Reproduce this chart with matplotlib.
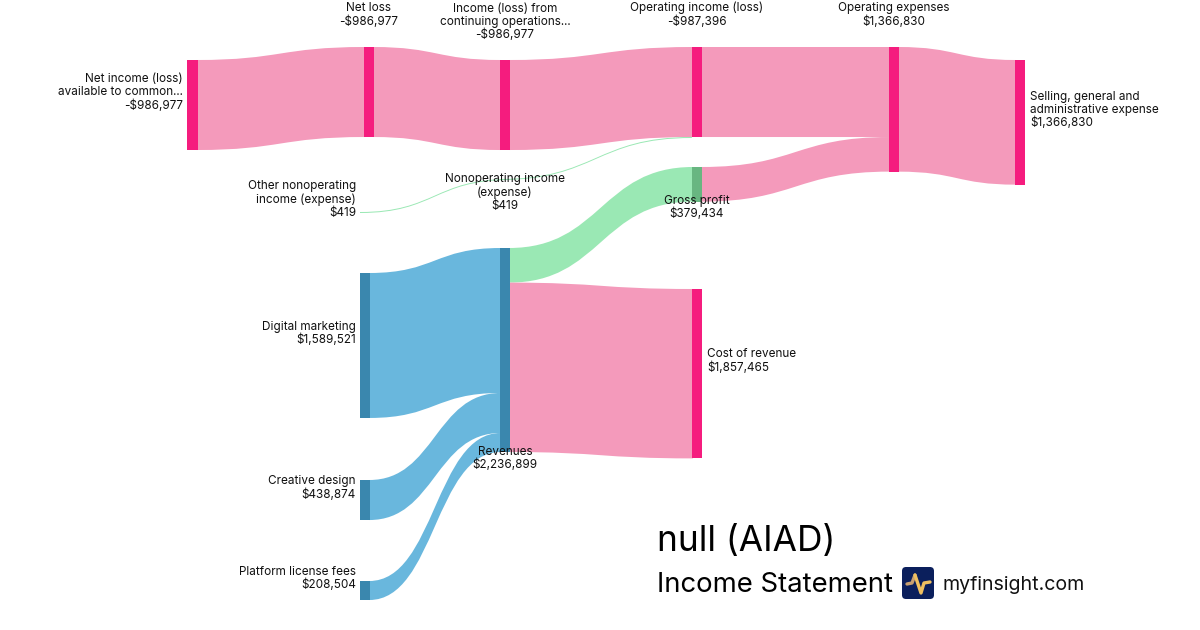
import matplotlib
matplotlib.use("Agg")
import matplotlib.pyplot as plt
from matplotlib.path import Path
from matplotlib.patches import PathPatch, Rectangle, FancyBboxPatch

plt.rcParams['font.family'] = ['Inter', 'DejaVu Sans']

# the chart's values
node_names = ["Net income (loss)\navailable to common...", "Net loss", "Income (loss) from\ncontinuing operations...",
              "Operating income (loss)", "Operating expenses", "Selling, general and\nadministrative expense",
              "Other nonoperating\nincome (expense)", "Nonoperating income\n(expense)", "Gross profit",
              "Digital marketing", "Creative design", "Platform license fees", "Revenues", "Cost of revenue"]
node_values = [-986977, -986977, -986977, -987396, 1366830, 1366830,
               419, 419, 379434, 1589521, 438874, 208504, 2236899, 1857465]
link_source = [0, 1, 2, 3, 8, 4, 6, 7, 12, 12, 9, 10, 11]
link_target = [1, 2, 3, 4, 4, 5, 7, 3, 8, 13, 12, 12, 12]
link_values = [986977, 986977, 986977, 986977, 379434, 1366830, 419, 419, 379434, 1857465, 1589521, 438874, 208504]

# layout, in pixels of the 1200x630 picture
node_x = [187.3, 363.7, 499.7, 691.9, 888.9, 1014.8, 360, 499.7, 691.9, 360, 360, 360, 499.7, 691.9]
node_top = [60, 47, 60, 47, 47, 60, 212, 179, 167, 273, 480, 581, 248, 289]
node_w = 10.3
px_per_unit = 204 / 2236899
# anchor x, block centre y, alignment
label_pos = [(183, 92.5, 'right'), (369, 15, 'center'), (505, 22, 'center'), (697, 15, 'center'),
             (894, 15, 'center'), (1030, 110, 'left'), (356, 199.5, 'right'), (505, 192.5, 'center'),
             (697, 207.5, 'center'), (356, 333.5, 'right'), (356, 488, 'right'), (356, 578.5, 'right'),
             (505, 458.5, 'center'), (707, 361, 'left')]

PINK, PINK_LINK = '#F51C7E', '#F49ABB'
BLUE, BLUE_LINK = '#3A87AE', '#69B7DD'
GREEN, GREEN_LINK = '#68B681', '#9AE8B4'
node_colors = [PINK] * 6 + [GREEN, GREEN, GREEN, BLUE, BLUE, BLUE, BLUE, PINK]
link_colors = [PINK_LINK] * 6 + [GREEN_LINK, GREEN_LINK, GREEN_LINK, PINK_LINK, BLUE_LINK, BLUE_LINK, BLUE_LINK]


def money(v):
    return f"-${abs(v):,}" if v < 0 else f"${v:,}"


fig = plt.figure(figsize=(12, 6.3), dpi=100)
ax = fig.add_axes([0, 0, 1, 1])
ax.set_xlim(0, 1200)
ax.set_ylim(630, 0)
ax.axis('off')

# stack the links on each node, in list order
out_y = list(node_top)
in_y = list(node_top)
for s, t, v, c in zip(link_source, link_target, link_values, link_colors):
    h = max(v * px_per_unit, 1.0)
    # run a little under the nodes so no white seam shows
    x0 = node_x[s] + node_w - 1
    x1 = node_x[t] + 1
    if v < 1000:
        # the tiny nodes are not drawn, their links run through them
        x0 = node_x[s]
        x1 = node_x[t] + (node_w if t == 7 else 0)
    xm = (x0 + x1) / 2
    y0, y1 = out_y[s], in_y[t]
    verts = [(x0, y0), (xm, y0), (xm, y1), (x1, y1),
             (x1, y1 + h), (xm, y1 + h), (xm, y0 + h), (x0, y0 + h), (x0, y0)]
    codes = [Path.MOVETO, Path.CURVE4, Path.CURVE4, Path.CURVE4,
             Path.LINETO, Path.CURVE4, Path.CURVE4, Path.CURVE4, Path.CLOSEPOLY]
    ax.add_patch(PathPatch(Path(verts, codes), fc=c, ec='none', zorder=1))
    out_y[s] += v * px_per_unit
    in_y[t] += v * px_per_unit

for name, val, x, top, col, pos in zip(node_names, node_values, node_x, node_top, node_colors, label_pos):
    h = abs(val) * px_per_unit
    if h > 1:
        ax.add_patch(Rectangle((x, top), node_w, h, fc=col, ec='none', zorder=2))
    ax.text(pos[0], pos[1], name + "\n" + money(val), ha=pos[2], va='center', multialignment=pos[2],
            fontsize=8.45, color='#111111', linespacing=1.13, zorder=3)

ax.text(657, 541, "null (AIAD)", fontsize=25.4, color='black', va='center', ha='left')
ax.text(657, 585.5, "Income Statement", fontsize=19.8, color='black', va='center', ha='left')
ax.text(942, 585, "myfinsight.com", fontsize=14.1, color='#111111', va='center', ha='left')

# logo
ax.add_patch(FancyBboxPatch((905, 570), 26, 26, boxstyle="round,pad=3,rounding_size=4", fc='#0B1F5C', ec='none'))
ax.plot([907, 912, 915], [584, 583, 575], color='#C9A070', lw=2.4, solid_capstyle='round', solid_joinstyle='round')
ax.plot([915, 921, 924, 930], [575, 593, 583, 582], color='#F0C060', lw=2.4, solid_capstyle='round', solid_joinstyle='round')

fig.savefig("out.png", dpi=100)
